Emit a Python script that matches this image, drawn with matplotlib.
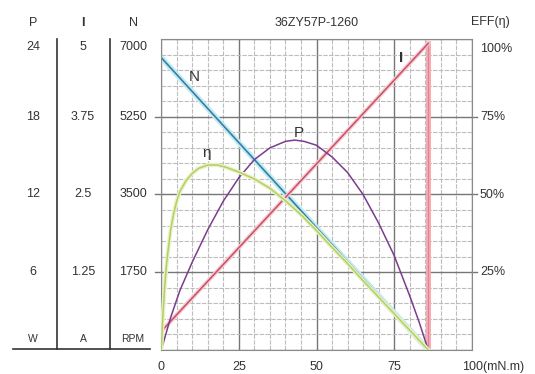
import matplotlib.pyplot as plt
import matplotlib.transforms as mtrans

plt.rcParams['font.family'] = ['Liberation Sans', 'DejaVu Sans']

# ---- data ----
title = '36ZY57P-1260'
stall_torque = 86

torque_n = [0, 86]
speed = [6580, 0]                      # RPM

torque_i = [0, 86]
current = [0.3, 4.93]                  # A

torque_p = [0, 3, 6, 10, 15, 20, 25, 30, 35, 40, 43, 46, 50, 55, 60, 65, 70, 75, 80, 83, 86]
power = [0, 2.5, 4.6, 6.8, 9.3, 11.5, 13.3, 14.7, 15.6, 16.1, 16.2, 16.1, 15.8, 14.9, 13.7, 12.0, 9.8, 7.3, 4.2, 2.2, 0]   # W

torque_e = [0, 0.5, 1, 1.5, 2, 3, 4, 5, 6, 8, 10, 12, 15, 18, 21, 25, 30, 35, 40, 45, 50, 55, 60, 65, 70, 75, 80, 86]
eff = [0, 11, 19, 25.5, 30.5, 38.5, 44, 48, 51, 54.5, 56.8, 58.4, 59.5, 59.5, 58.7, 57.2, 55, 52, 48, 43.5, 38.4, 33, 27.8, 22.3, 17, 11.7, 6.4, 0]  # %

x_ticks = [0, 25, 50, 75, 100]
p_labels = ['24', '18', '12', '6']
i_labels = ['5', '3.75', '2.5', '1.25']
n_ticks = [7000, 5250, 3500, 1750]
e_ticks = [100, 75, 50, 25]

txt = '#333333'
W, H = 535, 374

fig = plt.figure(figsize=(W / 100, H / 100), dpi=100)

# background layer in pixel coordinates for the left table
bg = fig.add_axes([0, 0, 1, 1])
bg.set_xlim(0, W)
bg.set_ylim(H, 0)
bg.axis('off')

ax = fig.add_axes([161.3 / W, (H - 350) / H, 310.4 / W, 311 / H])
ax.set_xlim(0, 100)
ax.set_ylim(0, 7000)

# grid
ax.set_xticks(range(0, 101, 5), minor=True)
ax.set_yticks(range(0, 7001, 350), minor=True)
ax.set_xticks(x_ticks)
ax.set_yticks([0, 1750, 3500, 5250, 7000])
ax.grid(which='minor', color='#bdbdbd', lw=0.8, ls=(0, (4, 1.2)))
ax.grid(which='major', color='#767676', lw=1.0)
ax.set_axisbelow(True)
for s in ax.spines.values():
    s.set_color('#8a8a8a')
ax.tick_params(which='minor', length=0)
ax.tick_params(axis='y', which='major', length=0, labelleft=False)
ax.tick_params(axis='x', which='major', length=0, pad=8, labelsize=9, labelcolor=txt)
ax.set_xticklabels(['0', '25', '50', '75', '100(mN.m)'])
lab = ax.get_xticklabels()[-1]
lab.set_horizontalalignment('left')
lab.set_transform(lab.get_transform() + mtrans.ScaledTranslation(-0.10, 0, fig.dpi_scale_trans))

# small outward tick marks
for v in n_ticks[1:]:
    ax.plot([-2, 0], [v, v], color='#767676', lw=1, clip_on=False)
    ax.plot([100, 101.7], [v, v], color='#767676', lw=1, clip_on=False)

ax_i = ax.twinx()
ax_p = ax.twinx()
ax_e = ax.twinx()
ax_i.set_ylim(0, 5)
ax_p.set_ylim(0, 24)
ax_e.set_ylim(0, 100)
for a in (ax_i, ax_p, ax_e):
    a.axis('off')

# curves
ax.plot(torque_n, speed, color='#c4eaf2', lw=4, solid_capstyle='butt')
ax.plot(torque_n, speed, color='#3380a6', lw=1.2)

ax_e.plot(torque_e, eff, color='#e9f2c4', lw=3)
ax_e.plot(torque_e, eff, color='#b3cf66', lw=1.1)

ax_p.plot(torque_p, power, color='#7a3d8e', lw=1.1)

ax_i.plot([stall_torque, stall_torque], [0, current[-1]], color='#f3aab3', lw=3.5)
ax_i.plot([stall_torque, stall_torque], [0, current[-1]], color='#e58190', lw=0.8)
ax_i.plot(torque_i, current, color='#f5cbd0', lw=3)
ax_i.plot(torque_i, current, color='#c8506a', lw=1.1)

# curve labels
ax.text(10.5, 6145, 'N', fontsize=11, color=txt, ha='center', va='center')
ax.text(77.4, 6572, 'I', fontsize=11, color=txt, ha='center', va='center', fontweight='bold')
ax.text(44.2, 4891, 'P', fontsize=11, color=txt, ha='center', va='center')
ax.text(14.7, 4434, 'η', fontsize=11, color=txt, ha='center', va='center')

# left table (pixel x, N-scale y)
tr = mtrans.blended_transform_factory(bg.transData, ax.transData)
for k in range(len(n_ticks)):
    y = n_ticks[k] - (175 if k == 0 else 0)
    ax.text(33, y, p_labels[k], transform=tr, ha='center', va='center', fontsize=9, color=txt)
    ax.text(83, y, i_labels[k], transform=tr, ha='center', va='center', fontsize=9, color=txt)
    ax.text(147, y, str(n_ticks[k]), transform=tr, ha='right', va='center', fontsize=9, color=txt)

# right percent labels
tr_e = mtrans.blended_transform_factory(bg.transData, ax_e.transData)
for k in range(len(e_ticks)):
    y = e_ticks[k] - (3.2 if k == 0 else 0)
    ax.text(480, y, '%d%%' % e_ticks[k], transform=tr_e, ha='left', va='center', fontsize=9, color=txt)

for x, s in [(33, 'P'), (83, 'I'), (133, 'N')]:
    bg.text(x, 23, s, ha='center', va='center', fontsize=9, color=txt,
            fontweight='bold' if s == 'I' else 'normal')
for x, s in [(33, 'W'), (83, 'A'), (133, 'RPM')]:
    bg.text(x, 339, s, ha='center', va='center', fontsize=7.5, color=txt)
bg.plot([13, 150], [349, 349], color='#333333', lw=1.2)
bg.plot([56.7, 56.7], [39, 349], color='#333333', lw=1.2)
bg.plot([110, 110], [39, 349], color='#333333', lw=1.2)

bg.text(316.7, 23, title, ha='center', va='center', fontsize=9, color=txt)
bg.text(490, 22, 'EFF(η)', ha='center', va='center', fontsize=9, color=txt)

fig.savefig('out.png', dpi=100)
